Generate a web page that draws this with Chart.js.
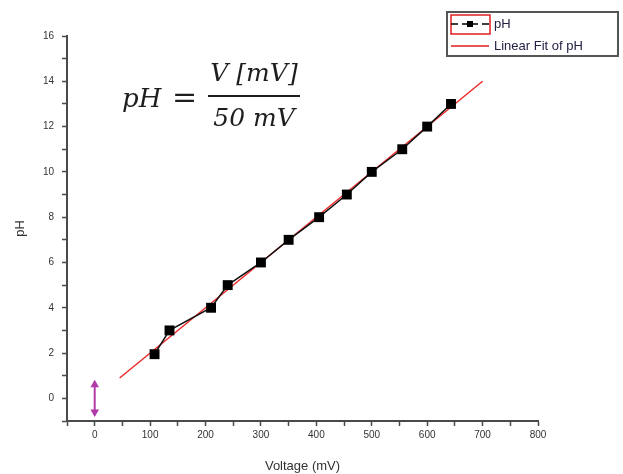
<!DOCTYPE html>
<html lang="en">
<head>
    <meta charset="UTF-8">
    <title>pH vs Voltage</title>
    <style>
        body {
            margin: 0;
            background: #fff;
        }
    </style>
</head>
<body>
    <canvas id="myChart" width="623" height="474"></canvas>

    <script src="https://cdn.jsdelivr.net/npm/chart.js"></script>
    <script>
        // measured points (mV, pH)
        const voltage = [108, 135, 210, 240, 300, 350, 405, 455, 500, 555, 600, 643];
        const ph = [1.95, 3, 4, 5, 6, 7, 8, 9, 10, 11, 12, 13];

        // linear fit end points
        const fitVoltage = [45, 700];
        const fitPh = [0.9, 14];

        // purple marker at 0 mV
        const markerVoltage = [0, 0];
        const markerPh = [0.6, -0.6];

        const xTicks = [0, 100, 200, 300, 400, 500, 600, 700, 800];
        const yTicks = [0, 2, 4, 6, 8, 10, 12, 14, 16];

        const axisColor = '#4a4a4a';
        const labelColor = '#333';

        const pointsOf = (xs, ys) => xs.map((x, i) => ({ x: x, y: ys[i] }));

        // equation + legend drawn over the chart
        const overlay = {
            id: 'overlay',
            afterDraw(chart) {
                const ctx = chart.ctx;
                ctx.save();

                // equation
                ctx.fillStyle = '#1e1e1e';
                ctx.textBaseline = 'middle';
                ctx.font = 'italic 26px "DejaVu Serif"';
                ctx.textAlign = 'left';
                ctx.fillText('pH', 122, 100);
                ctx.font = '30px "DejaVu Serif"';
                ctx.fillText('=', 172, 99);
                ctx.textAlign = 'center';
                ctx.font = 'italic 25px "DejaVu Serif"';
                ctx.fillText('V [mV]', 254, 74);
                ctx.fillText('50 mV', 254, 119);
                ctx.fillRect(208, 95, 92, 2);

                // legend box
                ctx.strokeStyle = '#555';
                ctx.lineWidth = 2;
                ctx.strokeRect(447, 12, 171, 44);

                // pH entry
                ctx.strokeStyle = '#e02020';
                ctx.lineWidth = 1.5;
                ctx.strokeRect(451, 15, 39, 19);
                ctx.strokeStyle = '#000';
                ctx.lineWidth = 1.5;
                ctx.beginPath();
                ctx.moveTo(451, 24); ctx.lineTo(458, 24);
                ctx.moveTo(482, 24); ctx.lineTo(489, 24);
                ctx.moveTo(462, 24); ctx.lineTo(478, 24);
                ctx.stroke();
                ctx.fillStyle = '#000';
                ctx.fillRect(467, 21, 6, 6);

                // fit entry
                ctx.strokeStyle = '#e02020';
                ctx.beginPath();
                ctx.moveTo(451, 46); ctx.lineTo(489, 46);
                ctx.stroke();

                ctx.fillStyle = '#222244';
                ctx.font = '13px "Liberation Sans"';
                ctx.textAlign = 'left';
                ctx.fillText('pH', 494, 24);
                ctx.fillText('Linear Fit of pH', 494, 46);

                ctx.restore();
            }
        };

        const ctx = document.getElementById('myChart').getContext('2d');
        const myChart = new Chart(ctx, {
            type: 'scatter',
            data: {
                datasets: [{
                    label: 'pH',
                    data: pointsOf(voltage, ph),
                    showLine: true,
                    borderColor: '#111',
                    borderWidth: 1.5,
                    backgroundColor: '#000',
                    pointStyle: 'rect',
                    pointRadius: 7,
                    pointBorderWidth: 0
                },
                {
                    label: 'Linear Fit of pH',
                    data: pointsOf(fitVoltage, fitPh),
                    showLine: true,
                    borderColor: '#ee2a2a',
                    borderWidth: 1.5,
                    pointRadius: 0
                },
                {
                    label: 'marker',
                    data: pointsOf(markerVoltage, markerPh),
                    showLine: true,
                    borderColor: '#b03aa8',
                    backgroundColor: '#b03aa8',
                    borderWidth: 2,
                    pointStyle: 'triangle',
                    rotation: [0, 180],
                    pointRadius: 5,
                    pointBorderWidth: 0
                }]
            },
            options: {
                responsive: false,
                animation: false,
                layout: {
                    padding: { top: 36, right: 85, left: 0, bottom: 0 }
                },
                plugins: {
                    legend: { display: false },
                    tooltip: { enabled: false }
                },
                scales: {
                    x: {
                        type: 'linear',
                        min: -50,
                        max: 800,
                        afterFit: (scale) => { scale.height = 53; },
                        ticks: {
                            stepSize: 50,
                            autoSkip: false,
                            maxRotation: 0,
                            color: labelColor,
                            font: { family: 'Liberation Sans', size: 10 },
                            padding: 3,
                            callback: (v) => xTicks.includes(v) ? String(v) : ''
                        },
                        grid: {
                            drawOnChartArea: false,
                            tickLength: 5,
                            tickColor: axisColor,
                            tickWidth: 1.5
                        },
                        border: { color: axisColor, width: 2 },
                        title: {
                            display: true,
                            text: 'Voltage (mV)',
                            color: labelColor,
                            font: { family: 'Liberation Sans', size: 13 },
                            padding: { top: 6, bottom: 0 }
                        }
                    },
                    y: {
                        type: 'linear',
                        min: -1,
                        max: 16,
                        afterFit: (scale) => { scale.width = 67; },
                        ticks: {
                            stepSize: 1,
                            autoSkip: false,
                            color: labelColor,
                            font: { family: 'Liberation Sans', size: 10 },
                            padding: 8,
                            callback: (v) => yTicks.includes(v) ? String(v) : ''
                        },
                        grid: {
                            drawOnChartArea: false,
                            tickLength: 5,
                            tickColor: axisColor,
                            tickWidth: 1.5
                        },
                        border: { color: axisColor, width: 2 },
                        title: {
                            display: true,
                            text: 'pH',
                            color: labelColor,
                            font: { family: 'Liberation Sans', size: 13 },
                            padding: { top: 13, bottom: 0 }
                        }
                    }
                }
            },
            plugins: [overlay]
        });
    </script>
</body>
</html>
